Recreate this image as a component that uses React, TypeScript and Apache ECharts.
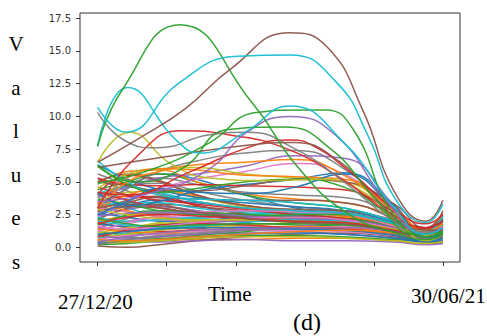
import React, { useEffect, useRef } from "react";
import * as echarts from "echarts";

// x positions (days since 27/12/20) of the sampled knots of the bundle
const KNOT_DAYS = [0, 16, 33, 53, 79, 106, 132, 159, 176, 185];
const X_TICKS = [0, 37, 74, 111, 148, 185];
const Y_TICKS = [0, 2.5, 5, 7.5, 10, 12.5, 15, 17.5];
const START_LABEL = "27/12/20";
const END_LABEL = "30/06/21";
const X_TITLE = "Time";
const Y_TITLE_LETTERS = ["V", "a", "l", "u", "e", "s"];
const PANEL_LABEL = "(d)";

const TAB10 = ["#1f77b4", "#ff7f0e", "#2ca02c", "#d62728", "#9467bd", "#8c564b", "#e377c2", "#7f7f7f", "#bcbd22", "#17becf"];

// dense bundle of low-valued series (sampled at KNOT_DAYS)
const BULK: number[][] = [
  [3.2, 4.5, 5.6, 5.2, 4.0, 3.0, 2.5, 1.6, 0.8, 1.2],
  [2.0, 2.4, 2.6, 2.5, 2.3, 2.1, 2.0, 1.4, 0.9, 1.4],
  [1.2, 1.0, 1.3, 1.6, 1.8, 1.7, 1.5, 1.0, 0.6, 0.9],
  [4.0, 5.5, 5.0, 4.0, 3.2, 2.8, 2.6, 1.7, 0.9, 1.6],
  [0.5, 0.6, 0.8, 1.0, 1.1, 1.2, 1.0, 0.7, 0.4, 0.6],
  [2.8, 3.6, 3.9, 3.2, 2.6, 2.3, 2.1, 1.4, 1.1, 2.0],
  [1.6, 2.0, 2.3, 2.1, 2.0, 2.2, 2.4, 1.8, 1.0, 1.5],
  [5.2, 4.3, 3.4, 2.8, 2.5, 2.4, 2.2, 1.3, 0.7, 1.0],
  [0.9, 1.4, 1.9, 2.2, 2.5, 2.6, 2.3, 1.3, 0.5, 0.8],
  [3.6, 3.0, 2.4, 2.2, 2.5, 2.7, 2.5, 1.7, 1.2, 2.2],
  [2.4, 3.2, 3.6, 3.4, 3.0, 2.7, 2.4, 1.5, 0.8, 1.1],
  [0.3, 0.4, 0.5, 0.6, 0.6, 0.7, 0.7, 0.5, 0.3, 0.5],
  [4.4, 5.0, 5.6, 5.0, 4.0, 3.4, 3.0, 2.0, 1.4, 2.4],
  [1.9, 1.5, 1.2, 1.4, 1.9, 2.3, 2.2, 1.5, 0.9, 1.2],
  [2.2, 2.9, 3.1, 2.8, 2.3, 2.0, 1.8, 1.2, 0.7, 1.0],
  [0.1, 0.0, 0.2, 0.5, 0.8, 1.0, 1.1, 0.8, 0.4, 0.3],
  [3.0, 2.7, 2.4, 2.3, 2.3, 2.4, 2.5, 2.0, 1.5, 2.6],
  [1.4, 2.2, 2.6, 2.5, 2.2, 2.0, 1.8, 1.2, 0.7, 1.0],
  [3.8, 4.2, 4.3, 3.8, 3.1, 2.6, 2.2, 1.4, 0.6, 0.9],
  [0.7, 1.1, 1.5, 1.7, 1.6, 1.4, 1.3, 1.1, 0.8, 1.3],
  [2.6, 2.3, 2.0, 2.0, 2.1, 2.2, 2.0, 1.5, 1.2, 1.7],
  [4.8, 5.8, 5.9, 5.0, 4.1, 3.7, 3.4, 2.4, 1.3, 1.8],
  [1.0, 0.8, 0.7, 0.9, 1.2, 1.5, 1.7, 1.4, 1.0, 1.6],
  [3.4, 3.9, 3.8, 3.2, 2.5, 2.1, 1.9, 1.3, 0.9, 1.5],
  [0.4, 0.5, 0.4, 0.5, 0.6, 0.5, 0.5, 0.4, 0.2, 0.3],
  [2.1, 3.0, 3.3, 3.1, 2.8, 2.6, 2.5, 1.8, 1.1, 1.6],
  [1.3, 1.8, 2.1, 1.9, 1.6, 1.5, 1.6, 1.3, 0.9, 1.1],
  [5.6, 4.8, 4.1, 3.5, 3.0, 2.7, 2.4, 1.5, 0.8, 1.3],
  [0.8, 1.0, 1.3, 1.5, 1.7, 1.9, 2.0, 1.6, 1.0, 1.4],
  [3.1, 3.4, 3.4, 3.0, 2.7, 2.7, 2.8, 2.0, 1.3, 1.9],
  [1.8, 1.6, 1.7, 2.0, 2.3, 2.4, 2.2, 1.4, 0.6, 0.8],
  [2.9, 4.0, 4.4, 3.9, 3.2, 2.7, 2.4, 1.7, 1.4, 2.5],
  [0.2, 0.3, 0.5, 0.7, 0.9, 0.9, 0.8, 0.6, 0.5, 0.7],
  [4.2, 3.6, 3.0, 2.6, 2.4, 2.3, 2.2, 1.6, 1.0, 1.4],
  [1.5, 1.3, 1.5, 1.8, 2.0, 2.0, 1.9, 1.4, 1.1, 1.8],
  [2.5, 3.4, 3.8, 3.7, 3.6, 3.6, 3.4, 2.2, 1.0, 1.2],
  [0.6, 0.9, 1.0, 1.2, 1.3, 1.3, 1.2, 0.9, 0.6, 0.9],
  [3.9, 4.7, 4.9, 4.3, 3.6, 3.1, 2.7, 1.8, 1.0, 1.3],
  [1.1, 1.5, 1.8, 2.0, 2.1, 2.0, 1.8, 1.2, 0.8, 1.2],
  [2.3, 2.0, 2.1, 2.3, 2.5, 2.6, 2.5, 1.8, 1.3, 2.0],
  [0.3, 0.5, 0.6, 0.8, 1.0, 1.1, 1.0, 0.7, 0.4, 0.5],
  [3.3, 2.8, 2.3, 2.1, 2.1, 2.2, 2.3, 1.7, 1.0, 1.5],
  [1.7, 2.5, 2.8, 2.7, 2.5, 2.3, 2.2, 1.6, 1.2, 2.1],
  [4.6, 4.0, 3.6, 3.3, 2.9, 2.5, 2.2, 1.3, 0.7, 1.1],
  [0.9, 0.7, 0.8, 1.0, 1.3, 1.6, 1.8, 1.5, 1.1, 1.7],
  [2.7, 3.1, 3.0, 2.6, 2.2, 2.0, 1.9, 1.5, 1.0, 1.3],
  [1.2, 1.9, 2.4, 2.7, 2.8, 2.7, 2.5, 1.6, 0.7, 0.9],
  [3.5, 4.8, 5.3, 4.8, 4.2, 4.0, 3.8, 2.5, 1.2, 1.5],
  [0.5, 0.4, 0.5, 0.7, 0.8, 0.8, 0.7, 0.5, 0.3, 0.4],
  [2.0, 1.7, 1.5, 1.6, 1.9, 2.1, 2.0, 1.3, 0.8, 1.2],
  [6.3, 5.2, 4.4, 3.8, 3.4, 3.1, 2.8, 1.9, 1.0, 1.4],
  [1.4, 1.2, 1.1, 1.3, 1.5, 1.6, 1.5, 1.1, 0.7, 1.0],
  [3.7, 3.3, 2.8, 2.5, 2.4, 2.5, 2.5, 1.8, 1.4, 2.3],
  [0.8, 1.3, 1.7, 1.8, 1.7, 1.5, 1.4, 1.0, 0.6, 0.8],
  [2.4, 2.6, 2.7, 2.6, 2.4, 2.2, 2.1, 1.5, 0.9, 1.3],
  [5.0, 5.6, 5.1, 4.0, 3.2, 2.9, 2.8, 2.1, 1.5, 2.8],
  [1.6, 1.4, 1.6, 1.9, 2.2, 2.3, 2.1, 1.4, 0.8, 1.0],
  [0.2, 0.6, 0.9, 1.1, 1.3, 1.4, 1.3, 1.0, 0.6, 0.8],
  [2.9, 2.5, 2.2, 2.1, 2.1, 2.0, 1.9, 1.4, 1.0, 1.6],
  [4.1, 4.6, 4.2, 3.5, 3.0, 2.8, 2.6, 1.8, 1.1, 1.7],
  [1.0, 1.2, 1.4, 1.5, 1.5, 1.4, 1.3, 0.9, 0.5, 0.7],
  [0.6, 0.5, 0.6, 0.8, 1.0, 1.2, 1.3, 1.1, 0.8, 1.2],
  [2.2, 1.8, 1.6, 1.7, 1.8, 1.8, 1.7, 1.2, 0.8, 1.1],
  [1.8, 2.3, 2.5, 2.4, 2.2, 2.0, 1.9, 1.3, 0.9, 1.3],
  [0.4, 0.8, 1.1, 1.3, 1.4, 1.5, 1.5, 1.2, 0.7, 0.9],
  [3.0, 3.3, 3.2, 2.7, 2.2, 1.9, 1.8, 1.2, 0.8, 1.0],
];

// medium series (peaks 5-8), sampled at KNOT_DAYS
const PINK_MID = [2.5, 3.5, 4.5, 5.2, 5.8, 6.4, 5.6, 2.8, 1.2, 1.6];
const GRAY_MID = [3.0, 4.5, 5.8, 6.6, 7.2, 7.4, 6.0, 2.6, 0.8, 0.9];
const PURPLE_MID = [3.8, 4.6, 5.3, 5.6, 6.2, 7.0, 6.8, 3.2, 1.1, 1.4];
const OLIVE_MID = [4.5, 5.6, 6.0, 6.1, 5.6, 5.3, 5.0, 2.6, 0.9, 1.2];
const BLUE_MID = [4.2, 3.2, 3.5, 4.3, 4.8, 5.2, 5.7, 3.2, 0.8, 1.0];
const RED_MID = [5.3, 4.8, 4.7, 4.8, 4.7, 4.6, 4.4, 2.7, 1.4, 2.0];
const ORANGE_MID = [3.3, 5.3, 6.0, 5.9, 5.5, 5.4, 5.2, 3.0, 1.3, 1.8];
const BROWN_MID = [5.0, 4.7, 4.3, 4.3, 4.7, 5.2, 5.0, 3.3, 1.5, 2.2];
const CYAN_MID = [6.6, 5.0, 4.0, 3.7, 3.6, 3.4, 3.0, 2.0, 1.2, 2.4];
const GREEN_MID = [6.3, 4.8, 4.2, 4.5, 5.0, 5.2, 4.6, 2.2, 0.8, 1.2];
const ORANGE_HIGH = [3.0, 5.0, 5.8, 6.3, 6.5, 6.7, 5.5, 2.8, 1.2, 1.8];
const BLUE_HIGH = [2.5, 3.5, 4.5, 4.2, 4.1, 4.6, 5.6, 3.0, 0.8, 1.0];

// prominent series, each with its own sample days
const OLIVE_PEAK_DAYS = [0, 17, 39, 60, 90, 120, 145, 162, 176, 185];
const OLIVE_PEAK = [6.5, 8.8, 6.4, 5.3, 5.1, 5.2, 4.0, 1.8, 0.5, 1.0];
const RED_PEAK_DAYS = [0, 20, 45, 70, 100, 130, 158, 176, 185];
const RED_PEAK = [3.0, 6.8, 8.9, 8.6, 7.6, 5.3, 2.5, 1.5, 2.0];
const RED_RISE_DAYS = [0, 15, 50, 80, 103, 115, 135, 160, 176, 185];
const RED_RISE = [4.2, 4.0, 5.8, 7.6, 8.2, 7.8, 5.8, 2.8, 1.8, 2.5];
const GRAY_PEAK_DAYS = [0, 14, 32, 60, 80, 106, 132, 159, 176, 185];
const GRAY_PEAK = [10.3, 8.2, 7.6, 8.6, 8.8, 7.5, 5.0, 2.0, 1.2, 1.5];
const BROWN_RISE_DAYS = [0, 40, 80, 105, 130, 150, 170, 185];
const BROWN_RISE = [6.1, 7.0, 7.8, 8.0, 6.5, 3.6, 1.4, 1.3];
const PURPLE_PEAK_DAYS = [0, 30, 60, 80, 103, 128, 155, 176, 185];
const PURPLE_PEAK = [3.5, 4.2, 6.0, 8.8, 10.0, 8.5, 3.5, 1.0, 1.5];
const GREEN_FLAT_DAYS = [0, 20, 45, 70, 100, 125, 150, 170, 185];
const GREEN_FLAT = [6.2, 5.0, 6.0, 9.0, 9.2, 7.5, 3.5, 1.0, 1.2];
const GREEN_LATE_DAYS = [0, 30, 60, 85, 110, 122, 137, 158, 176, 185];
const GREEN_LATE = [4.9, 6.0, 8.0, 10.3, 10.5, 10.5, 9.0, 2.6, 0.8, 1.2];
const CYAN_EARLY_DAYS = [0, 16, 42, 55, 79, 103, 132, 159, 176, 185];
const CYAN_EARLY = [7.8, 12.2, 8.2, 7.2, 8.8, 10.8, 8.0, 3.0, 1.0, 1.5];
const GREEN_PEAK_DAYS = [0, 13, 44, 83, 108, 135, 162, 176, 185];
const GREEN_PEAK = [7.7, 12.0, 17.0, 11.0, 6.0, 2.5, 1.0, 0.6, 1.0];
const BROWN_PEAK_DAYS = [0, 23, 47, 71, 103, 123, 142, 160, 176, 185];
const BROWN_PEAK = [6.5, 8.4, 10.6, 13.6, 16.4, 15.3, 10.5, 4.0, 2.0, 3.6];
const CYAN_PLATEAU_DAYS = [0, 15, 44, 75, 103, 128, 145, 160, 176, 185];
const CYAN_PLATEAU = [10.7, 8.8, 12.6, 14.6, 14.7, 12.6, 8.5, 3.6, 1.9, 3.3];

const NAMED: [number[], number[], string][] = [
  [KNOT_DAYS, PINK_MID, TAB10[6]], [KNOT_DAYS, GRAY_MID, TAB10[7]], [KNOT_DAYS, PURPLE_MID, TAB10[4]],
  [KNOT_DAYS, OLIVE_MID, TAB10[8]], [KNOT_DAYS, BLUE_MID, TAB10[0]], [KNOT_DAYS, RED_MID, TAB10[3]],
  [KNOT_DAYS, ORANGE_MID, TAB10[1]], [KNOT_DAYS, BROWN_MID, TAB10[5]], [KNOT_DAYS, CYAN_MID, TAB10[9]],
  [KNOT_DAYS, GREEN_MID, TAB10[2]], [KNOT_DAYS, ORANGE_HIGH, TAB10[1]], [KNOT_DAYS, BLUE_HIGH, TAB10[0]],
  [OLIVE_PEAK_DAYS, OLIVE_PEAK, TAB10[8]], [RED_PEAK_DAYS, RED_PEAK, TAB10[3]], [RED_RISE_DAYS, RED_RISE, TAB10[3]],
  [GRAY_PEAK_DAYS, GRAY_PEAK, TAB10[7]], [BROWN_RISE_DAYS, BROWN_RISE, TAB10[5]], [PURPLE_PEAK_DAYS, PURPLE_PEAK, TAB10[4]],
  [GREEN_FLAT_DAYS, GREEN_FLAT, TAB10[2]], [GREEN_LATE_DAYS, GREEN_LATE, TAB10[2]], [CYAN_EARLY_DAYS, CYAN_EARLY, TAB10[9]],
  [GREEN_PEAK_DAYS, GREEN_PEAK, TAB10[2]], [BROWN_PEAK_DAYS, BROWN_PEAK, TAB10[5]], [CYAN_PLATEAU_DAYS, CYAN_PLATEAU, TAB10[9]],
];

const SERIF = "'Liberation Serif', 'Times New Roman', serif";

export default function App() {
  const ref = useRef<HTMLDivElement>(null);
  useEffect(() => {
    if (!ref.current) return;
    const chart = echarts.init(ref.current, null, { renderer: "svg" });
    const mk = (days: number[], vals: number[], color: string, i: number) => ({
      type: "line",
      name: "s" + i,
      data: days.map((d, k) => [d, vals[k]]),
      smooth: true,
      symbol: "none",
      silent: true,
      lineStyle: { color, width: 1.5, opacity: 0.95 },
      emphasis: { disabled: true },
    });
    const series: any[] = [];
    BULK.forEach((v, i) => series.push(mk(KNOT_DAYS, v, TAB10[i % 10], i)));
    NAMED.forEach(([d, v, c], i) => series.push(mk(d, v, c, 100 + i)));

    const letterBase = 44;
    const letterStep = 43.6;
    const graphic: any[] = Y_TITLE_LETTERS.map((ch, i) => ({
      type: "text",
      x: 16,
      y: letterBase + letterStep * i,
      style: { text: ch, font: `21px ${SERIF}`, fill: "#000", align: "center", verticalAlign: "middle" },
    }));
    graphic.push(
      { type: "text", x: 58, y: 302, style: { text: START_LABEL, font: `21px ${SERIF}`, fill: "#000", align: "left", verticalAlign: "middle" } },
      { type: "text", x: 208, y: 294, style: { text: X_TITLE, font: `21px ${SERIF}`, fill: "#000", align: "left", verticalAlign: "middle" } },
      { type: "text", x: 411, y: 296, style: { text: END_LABEL, font: `21px ${SERIF}`, fill: "#000", align: "left", verticalAlign: "middle" } },
      { type: "text", x: 293, y: 322, style: { text: PANEL_LABEL, font: `24px ${SERIF}`, fill: "#000", align: "left", verticalAlign: "middle" } }
    );

    chart.setOption({
      animation: false,
      backgroundColor: "#fff",
      grid: { left: 80, top: 13, width: 380, height: 249, show: true, borderColor: "#333", borderWidth: 1, backgroundColor: "transparent" },
      xAxis: {
        type: "value",
        min: -9.5,
        max: 194.2,
        splitLine: { show: false },
        axisLine: { show: false, onZero: false },
        axisTick: { show: true, inside: false, customValues: X_TICKS, length: 4, lineStyle: { color: "#333" } },
        axisLabel: { show: false },
      },
      yAxis: {
        type: "value",
        min: -1.12,
        max: 17.9,
        splitLine: { show: false },
        axisLine: { show: false, onZero: false },
        axisTick: { show: true, inside: false, customValues: Y_TICKS, length: 4, lineStyle: { color: "#333" } },
        axisLabel: {
          show: true,
          customValues: Y_TICKS,
          formatter: (v: number) => v.toFixed(1),
          fontFamily: "'DejaVu Sans', sans-serif",
          fontSize: 10,
          color: "#333",
          margin: 9,
        },
      },
      series,
      graphic,
    });
    return () => chart.dispose();
  }, []);
  return <div ref={ref} style={{ width: 487, height: 336, position: "absolute", left: 0, top: 0 }} />;
}
